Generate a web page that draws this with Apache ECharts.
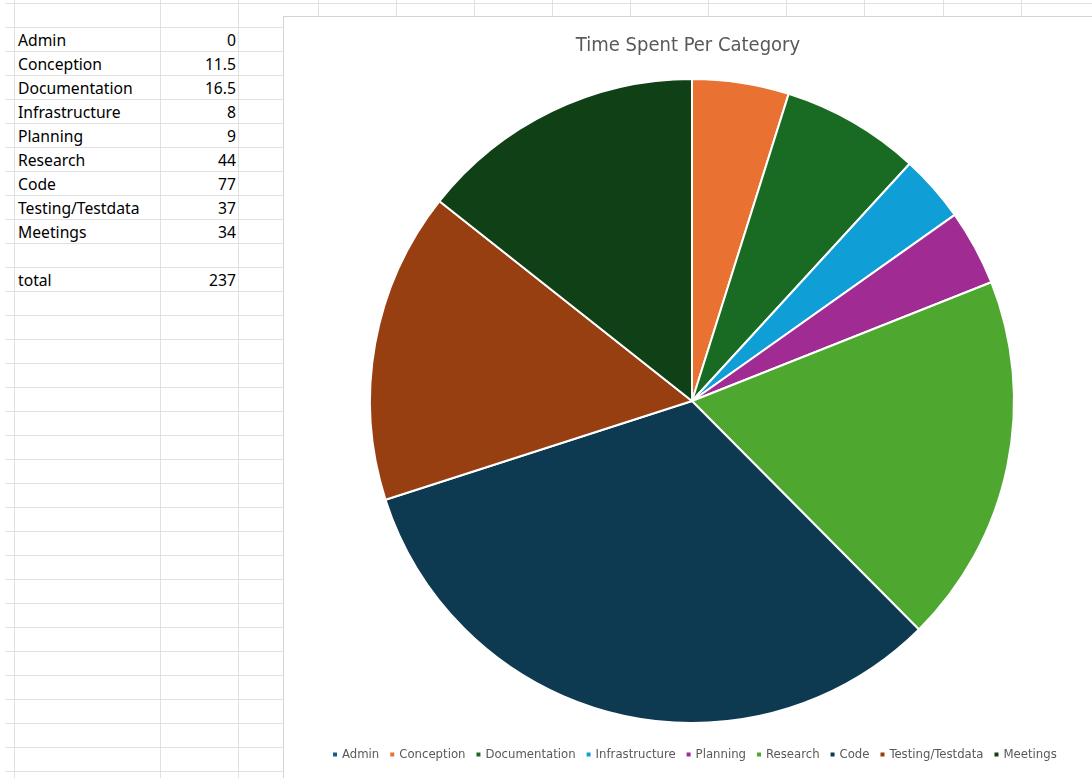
<!DOCTYPE html>
<html>
<head>
<meta charset="utf-8">
<script src="https://cdn.jsdelivr.net/npm/echarts@6/dist/echarts.min.js"></script>
<style>
  html, body {
    margin: 0;
    padding: 0;
    width: 1092px;
    height: 778px;
    overflow: hidden;
    background: #fff;
  }
  #sheet {
    position: absolute;
    left: 0;
    top: 0;
    width: 1092px;
    height: 778px;
  }
  .hline {
    position: absolute;
    left: 5px;
    right: 0;
    height: 1px;
    background: #e1e1e1;
  }
  .vline {
    position: absolute;
    top: 0;
    bottom: 0;
    width: 1px;
    background: #e1e1e1;
  }
  .cell {
    position: absolute;
    font-family: 'Noto Sans', 'Open Sans', sans-serif;
    font-size: 15.7px;
    color: #000;
    line-height: 24px;
    height: 24px;
  }
  #chart {
    position: absolute;
    left: 283px;
    top: 16px;
    width: 809px;
    height: 762px;
    background: #fff;
    border-left: 1px solid #d4d4d4;
    border-top: 1px solid #d4d4d4;
    box-sizing: border-box;
  }
</style>
</head>
<body>
<div id="sheet"></div>
<div id="chart"></div>
<script>
  // data from the sheet
  const categories = ['Admin', 'Conception', 'Documentation', 'Infrastructure', 'Planning', 'Research', 'Code', 'Testing/Testdata', 'Meetings'];
  const hours = [0, 11.5, 16.5, 8, 9, 44, 77, 37, 34];
  const colors = ['#156082', '#e97132', '#196b24', '#0f9ed5', '#a02b93', '#4ea72e', '#0e3a51', '#983f12', '#0f4016'];

  // spreadsheet backdrop
  const sheet = document.getElementById('sheet');
  const rowTop = 28;
  const rowH = 24;
  for (let y = 3; y < 778; y += rowH) {
    const l = document.createElement('div');
    l.className = 'hline';
    l.style.top = y + 'px';
    sheet.appendChild(l);
  }
  [14, 160, 238, 318, 396, 474, 552, 630, 708, 786, 864, 943, 1021].forEach((x) => {
    const l = document.createElement('div');
    l.className = 'vline';
    l.style.left = x + 'px';
    sheet.appendChild(l);
  });

  const addCell = (text, row, align) => {
    const c = document.createElement('div');
    c.className = 'cell';
    c.textContent = text;
    c.style.top = (rowTop + row * rowH) + 'px';
    if (align === 'right') {
      c.style.left = '160px';
      c.style.width = '76px';
      c.style.textAlign = 'right';
    } else {
      c.style.left = '18px';
    }
    sheet.appendChild(c);
  };
  categories.forEach((name, i) => {
    addCell(name, i, 'left');
    addCell(String(hours[i]), i, 'right');
  });
  const total = hours.reduce((a, b) => a + b, 0);
  addCell('total', categories.length + 1, 'left');
  addCell(String(total), categories.length + 1, 'right');

  // chart
  const chart = echarts.init(document.getElementById('chart'));
  const narrow = "'Liberation Sans Narrow', 'DejaVu Sans Condensed', sans-serif";
  chart.setOption({
    animation: false,
    color: colors,
    title: {
      text: 'Time Spent Per Category',
      left: 'center',
      top: 14,
      textStyle: {
        fontFamily: narrow,
        fontSize: 20,
        fontWeight: 'normal',
        color: '#595959',
      },
    },
    legend: {
      bottom: 12,
      left: 42,
      icon: 'rect',
      itemWidth: 6,
      itemHeight: 6,
      itemGap: 9,
      textStyle: {
        fontFamily: narrow,
        fontSize: 13,
        color: '#595959',
        padding: [0, 0, 0, -1],
      },
      data: categories,
    },
    series: [
      {
        type: 'pie',
        center: [408, 384],
        radius: [0, 322],
        startAngle: 90,
        clockwise: true,
        label: { show: false },
        labelLine: { show: false },
        itemStyle: {
          borderColor: '#fff',
          borderWidth: 2,
        },
        emphasis: { disabled: true },
        data: categories.map((name, i) => ({ name, value: hours[i] })),
      },
    ],
  });
</script>
</body>
</html>
